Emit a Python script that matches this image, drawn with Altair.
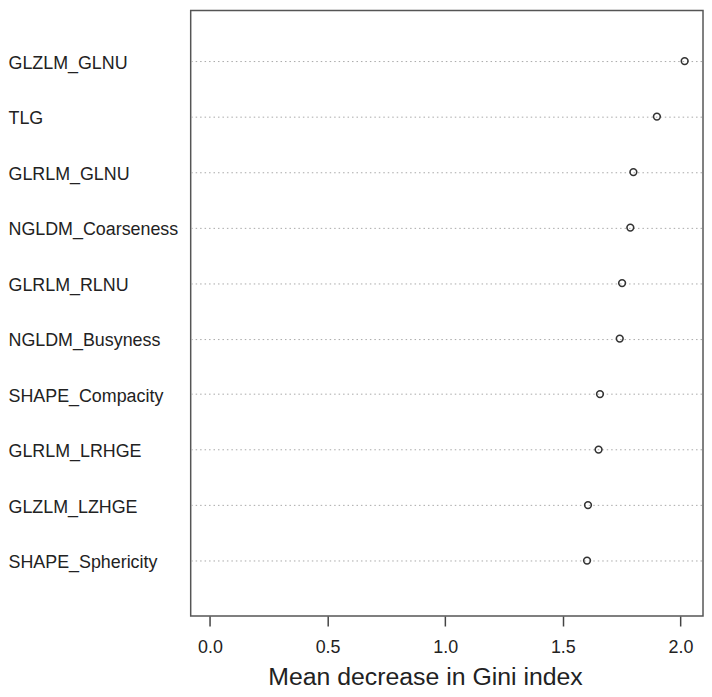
import json
import altair as alt
import pandas as pd

features = [
    "GLZLM_GLNU",
    "TLG",
    "GLRLM_GLNU",
    "NGLDM_Coarseness",
    "GLRLM_RLNU",
    "NGLDM_Busyness",
    "SHAPE_Compacity",
    "GLRLM_LRHGE",
    "GLZLM_LZHGE",
    "SHAPE_Sphericity",
]
gini = [2.018, 1.900, 1.800, 1.787, 1.752, 1.742, 1.658, 1.652, 1.607, 1.603]
x_ticks = [0.0, 0.5, 1.0, 1.5, 2.0]

df = pd.DataFrame({"feature": features, "gini": gini, "row": list(range(len(features)))})

FONT = "Liberation Sans"
label_expr = json.dumps(features) + "[datum.value]"

chart = (
    alt.Chart(df)
    .mark_point(shape="circle", filled=False, size=46, stroke="#333333", strokeWidth=1.6, opacity=1)
    .encode(
        x=alt.X(
            "gini:Q",
            scale=alt.Scale(domain=[-0.082, 2.096], nice=False, zero=False),
            axis=alt.Axis(
                values=x_ticks,
                format=".1f",
                grid=False,
                domain=False,
                ticks=True,
                tickSize=10,
                tickWidth=1.5,
                tickColor="#444444",
                labelFont=FONT,
                labelFontSize=18,
                labelColor="#222222",
                labelPadding=13,
                labelBaseline="top",
                title="Mean decrease in Gini index",
                titleFont=FONT,
                titleFontSize=25,
                titleFontWeight="normal",
                titleColor="#222222",
                titleX=236,
                titleY=69,
                titleAlign="center",
                titleBaseline="alphabetic",
            ),
        ),
        y=alt.Y(
            "row:Q",
            scale=alt.Scale(domain=[-0.9125, 10.0], nice=False, zero=False, reverse=True),
            axis=alt.Axis(
                values=list(range(len(features))),
                labelExpr=label_expr,
                grid=True,
                gridDash=[1.5, 3],
                gridColor="#a8a8a8",
                gridWidth=1,
                domain=False,
                ticks=False,
                tickSize=0,
                labelAlign="left",
                labelBaseline="middle",
                labelPadding=184,
                labelLimit=400,
                labelFont=FONT,
                labelFontSize=18,
                labelColor="#222222",
                labelOffset=2,
                title=None,
            ),
        ),
    )
    .properties(
        width=516,
        height=610,
        autosize=alt.AutoSizeParams(type="none"),
        padding={"left": 184, "top": 0, "right": 1, "bottom": 71},
    )
    .configure_view(stroke="#555555", strokeWidth=1.5)
)

chart.save("out.html", embed_options={"renderer": "svg", "actions": False})
